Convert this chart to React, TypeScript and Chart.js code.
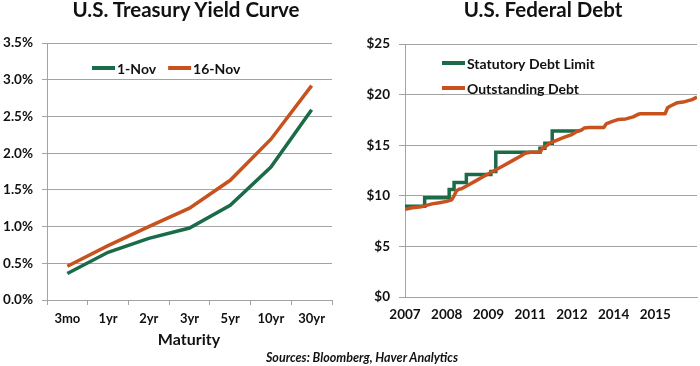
import React, { useEffect, useRef } from 'react';
import { Chart, registerables } from 'chart.js';

Chart.register(...registerables);

// ---- Left chart data: U.S. Treasury Yield Curve ----
const maturities = ['3mo', '1yr', '2yr', '3yr', '5yr', '10yr', '30yr'];
const yieldNov1 = [0.36, 0.65, 0.84, 0.98, 1.29, 1.81, 2.59];
const yieldNov16 = [0.46, 0.74, 1.0, 1.25, 1.63, 2.19, 2.92];
const yieldSeriesNames = ['1-Nov', '16-Nov'];

// ---- Right chart data: U.S. Federal Debt (months since Jan 2007, $ trillions) ----
const limitMonths = [0, 8, 18, 20, 25, 35, 37, 55, 57, 60, 71];
const limitValues = [8.965, 9.815, 10.615, 11.315, 12.104, 12.394, 14.294, 14.694, 15.194, 16.394, 16.394];
const debtMonths = [
  0, 3, 6, 8, 11, 14, 17, 19, 20, 21, 22, 23, 26, 29, 32, 35, 38, 41, 44, 47, 49, 51, 55, 56, 57,
  59, 62, 65, 68, 70, 72, 73, 75, 81, 82, 83, 84, 87, 90, 93, 95, 96, 106, 107, 108, 111, 114, 117, 119,
];
const debtValues = [
  8.68, 8.82, 8.9, 9.0, 9.2, 9.32, 9.45, 9.6, 10.0, 10.5, 10.65, 10.7, 11.1, 11.5, 11.9, 12.3, 12.7, 13.1,
  13.5, 13.9, 14.2, 14.3, 14.3, 14.7, 14.8, 15.2, 15.5, 15.8, 16.05, 16.35, 16.5, 16.7, 16.75, 16.75, 17.1,
  17.2, 17.3, 17.55, 17.6, 17.8, 18.05, 18.1, 18.1, 18.7, 18.85, 19.2, 19.3, 19.5, 19.75,
];
const debtTickMonths = [0, 17, 34, 51, 68, 85, 102];
const debtTickLabels = ['2007', '2008', '2009', '2011', '2012', '2014', '2015'];
const debtSeriesNames = ['Statutory Debt Limit', 'Outstanding Debt'];

const GREEN = '#1b6b48';
const ORANGE = '#c8521d';
const GRID = '#a3a3a3';
const TEXT = '#111111';
const FONT = 'Lato';

type LegendCfg = { dx: number; dy: number; horizontal: boolean; gap: number; rowH: number };

function insideLegend(names: string[], colors: string[], cfg: LegendCfg) {
  return {
    id: 'insideLegend',
    afterDatasetsDraw(chart: any) {
      const ctx = chart.ctx;
      const a = chart.chartArea;
      ctx.save();
      ctx.font = `bold 14px ${FONT}`;
      ctx.textBaseline = 'middle';
      ctx.textAlign = 'left';
      let x = a.left + cfg.dx;
      let y = a.top + cfg.dy;
      names.forEach((n, i) => {
        ctx.strokeStyle = colors[i];
        ctx.lineWidth = 4;
        ctx.beginPath();
        ctx.moveTo(x, y);
        ctx.lineTo(x + 23, y);
        ctx.stroke();
        ctx.fillStyle = TEXT;
        ctx.fillText(n, x + 25, y + 1);
        if (cfg.horizontal) {
          x += 25 + ctx.measureText(n).width + cfg.gap;
        } else {
          y += cfg.rowH;
        }
      });
      ctx.restore();
    },
  };
}

function YieldChart() {
  const ref = useRef<HTMLCanvasElement>(null);
  useEffect(() => {
    const chart = new Chart(ref.current!, {
      type: 'line',
      data: {
        labels: maturities,
        datasets: [
          { label: yieldSeriesNames[0], data: yieldNov1, borderColor: GREEN, borderWidth: 3.5, pointRadius: 0 },
          { label: yieldSeriesNames[1], data: yieldNov16, borderColor: ORANGE, borderWidth: 3.5, pointRadius: 0 },
        ],
      },
      options: {
        responsive: false,
        animation: false,
        devicePixelRatio: 1,
        layout: { padding: { top: 43, right: 18, left: 0, bottom: 0 } },
        plugins: { legend: { display: false }, tooltip: { enabled: false }, title: { display: false } },
        scales: {
          x: {
            offset: true,
            grid: { offset: true, drawOnChartArea: false, drawTicks: true, tickLength: 5, color: GRID },
            border: { color: GRID },
            ticks: { color: TEXT, font: { family: FONT, weight: 'bold', size: 13 }, padding: 6, maxRotation: 0 },
            afterFit: (s: any) => { s.height = 66; },
          },
          y: {
            min: 0,
            max: 3.5,
            ticks: {
              stepSize: 0.5,
              color: TEXT,
              font: { family: FONT, weight: 'bold', size: 13.5 },
              padding: 9,
              callback: (v: any) => Number(v).toFixed(1) + '%',
            },
            grid: { color: GRID, tickLength: 5 },
            border: { color: GRID },
            afterFit: (s: any) => { s.width = 47; },
          },
        },
      },
      plugins: [insideLegend(yieldSeriesNames, [GREEN, ORANGE], { dx: 45, dy: 25, horizontal: true, gap: 12, rowH: 0 })],
    } as any);
    return () => chart.destroy();
  }, []);
  return <canvas ref={ref} width={350} height={366} style={{ width: 350, height: 366, display: 'block' }} />;
}

function DebtChart() {
  const ref = useRef<HTMLCanvasElement>(null);
  useEffect(() => {
    const chart = new Chart(ref.current!, {
      type: 'line',
      data: {
        datasets: [
          {
            label: debtSeriesNames[0],
            data: limitMonths.map((m, i) => ({ x: m, y: limitValues[i] })),
            borderColor: GREEN,
            borderWidth: 3.5,
            pointRadius: 0,
            stepped: 'before',
            order: 1,
          },
          {
            label: debtSeriesNames[1],
            data: debtMonths.map((m, i) => ({ x: m, y: debtValues[i] })),
            borderColor: ORANGE,
            borderWidth: 3.5,
            pointRadius: 0,
            borderJoinStyle: 'round',
            order: 0,
          },
        ],
      },
      options: {
        responsive: false,
        animation: false,
        devicePixelRatio: 1,
        layout: { padding: { top: 44, right: 3, left: 0, bottom: 0 } },
        plugins: { legend: { display: false }, tooltip: { enabled: false }, title: { display: false } },
        scales: {
          x: {
            type: 'linear',
            min: 0,
            max: 119,
            afterBuildTicks: (s: any) => { s.ticks = debtTickMonths.map((v) => ({ value: v })); },
            ticks: {
              color: TEXT,
              font: { family: FONT, weight: 'bold', size: 13.5 },
              padding: 10,
              maxRotation: 0,
              autoSkip: false,
              callback: (v: any) => debtTickLabels[debtTickMonths.indexOf(Number(v))] ?? '',
            },
            grid: { display: false, drawTicks: false },
            border: { color: GRID },
            afterFit: (s: any) => { s.height = 69; },
          },
          y: {
            min: 0,
            max: 25,
            ticks: {
              stepSize: 5,
              color: TEXT,
              font: { family: FONT, weight: 'bold', size: 13.5 },
              padding: 9,
              callback: (v: any) => '$' + v,
            },
            grid: { color: GRID, tickLength: 6 },
            border: { color: GRID },
            afterFit: (s: any) => { s.width = 55; },
          },
        },
      },
      plugins: [insideLegend(debtSeriesNames, [GREEN, ORANGE], { dx: 37, dy: 19, horizontal: false, gap: 0, rowH: 25 })],
    } as any);
    return () => chart.destroy();
  }, []);
  return <canvas ref={ref} width={350} height={366} style={{ width: 350, height: 366, display: 'block' }} />;
}

const titleStyle: React.CSSProperties = {
  position: 'absolute',
  top: -2,
  transform: 'translateX(-50%)',
  whiteSpace: 'nowrap',
  fontFamily: FONT,
  fontWeight: 'bold',
  fontSize: 20.5,
  lineHeight: '22px',
  color: TEXT,
};

export default function App() {
  return (
    <div style={{ position: 'fixed', left: 0, top: 0, width: 700, height: 366, background: '#fff', overflow: 'hidden' }}>
      <div style={{ position: 'absolute', left: 0, top: 0 }}>
        <YieldChart />
      </div>
      <div style={{ position: 'absolute', left: 350, top: 0 }}>
        <DebtChart />
      </div>
      <div style={{ ...titleStyle, left: 186 }}>U.S. Treasury Yield Curve</div>
      <div style={{ ...titleStyle, left: 543 }}>U.S. Federal Debt</div>
      <div style={{ ...titleStyle, top: 330, left: 189, fontSize: 16, lineHeight: '18px' }}>Maturity</div>
      <div style={{ ...titleStyle, top: 351, left: 362, fontSize: 12.5, fontStyle: 'italic', lineHeight: '14px' }}>
        Sources: Bloomberg, Haver Analytics
      </div>
    </div>
  );
}
